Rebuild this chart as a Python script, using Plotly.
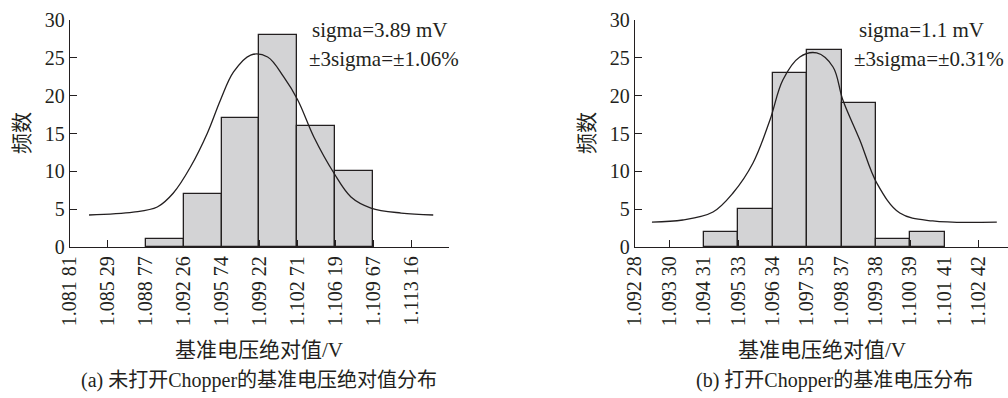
import plotly.graph_objects as go

W, H = 1008, 398
ML, MR, MT, MB = 0, 0, 20, 151
PH = H - MT - MB

# ---------- Panel (a): Chopper off ----------
a_tickvals = [1.08181, 1.08529, 1.08877, 1.09226, 1.09574, 1.09922,
              1.10271, 1.10619, 1.10967, 1.11316]
a_ticktext = ["1.081 81", "1.085 29", "1.088 77", "1.092 26", "1.095 74",
              "1.099 22", "1.102 71", "1.106 19", "1.109 67", "1.113 16"]
a_bin_edges = [1.08877, 1.09226, 1.09574, 1.09922, 1.10271, 1.10619, 1.10967]
a_counts = [1, 7, 17, 28, 16, 10]
a_curve_x = [1.08356, 1.08762, 1.08983, 1.09131, 1.09288, 1.09444, 1.09564,
             1.09684, 1.09841, 1.09997, 1.10145, 1.10274, 1.10422, 1.10606,
             1.10763, 1.10947, 1.11224, 1.11519]
a_curve_y = [4.23, 4.6, 5.29, 7.14, 10.57, 15.07, 19.43, 23.13, 25.37, 25.11,
             22.47, 19.43, 14.54, 9.78, 6.61, 5.15, 4.49, 4.23]
a_axis_end = 1.11664
a_text = ["sigma=3.89 mV", "±3sigma=±1.06%"]

# ---------- Panel (b): Chopper on ----------
b_tickvals = [1.09228, 1.09330, 1.09431, 1.09533, 1.09634, 1.09735,
              1.09837, 1.09938, 1.10039, 1.10141, 1.10242]
b_ticktext = ["1.092 28", "1.093 30", "1.094 31", "1.095 33", "1.096 34",
              "1.097 35", "1.098 37", "1.099 38", "1.100 39", "1.101 41",
              "1.102 42"]
b_bin_edges = [1.09431, 1.09533, 1.09634, 1.09735, 1.09837, 1.09938,
               1.10039, 1.10141]
b_counts = [2, 5, 23, 26, 19, 1, 2]
b_curve_x = [1.09278, 1.09369, 1.09458, 1.09517, 1.09576, 1.09626, 1.09664,
             1.09714, 1.09764, 1.09812, 1.09841, 1.09891, 1.09941, 1.10009,
             1.10106, 1.10295]
b_curve_y = [3.30, 3.57, 4.63, 7.14, 11.10, 16.78, 22.07, 25.11, 25.64,
             23.79, 19.43, 14.14, 8.46, 4.49, 3.44, 3.30]
b_axis_end = 1.10328
b_text = ["sigma=1.1 mV", "±3sigma=±0.31%"]

y_label = "频数"
x_label = "基准电压绝对值/V"
captions = ["(a) 未打开Chopper的基准电压绝对值分布", "(b) 打开Chopper的基准电压分布"]

INK = "#231f20"
BAR = "#d3d3d5"
SERIF = "Liberation Serif, Times New Roman, serif"
MIXED = "Liberation Serif, Noto Sans CJK SC, serif"
CJK = "Noto Sans CJK SC, sans-serif"

fig = go.Figure()


def add_panel(edges, counts, cx, cy, xa, ya):
    centers = [(edges[i] + edges[i + 1]) / 2 for i in range(len(counts))]
    widths = [edges[i + 1] - edges[i] for i in range(len(counts))]
    fig.add_trace(go.Bar(x=centers, y=counts, width=widths,
                         marker=dict(color=BAR, line=dict(color=INK, width=1.3)),
                         xaxis=xa, yaxis=ya, showlegend=False))
    fig.add_trace(go.Scatter(x=cx, y=cy, mode="lines",
                             line=dict(color=INK, width=1.3, shape="spline", smoothing=1.0),
                             xaxis=xa, yaxis=ya, showlegend=False))


add_panel(a_bin_edges, a_counts, a_curve_x, a_curve_y, "x", "y")
add_panel(b_bin_edges, b_counts, b_curve_x, b_curve_y, "x2", "y2")

axis_common = dict(showgrid=False, zeroline=False, showline=True, linecolor=INK,
                   linewidth=1.3, ticks="inside", ticklen=7, tickwidth=1.2,
                   automargin=False,
                   tickcolor=INK, tickfont=dict(family=SERIF, size=20, color=INK))


def px2x(px):
    return px / W


a_dom = [px2x(70), px2x(449)]
b_dom = [px2x(635), 1.0]

fig.update_layout(
    width=W, height=H,
    margin=dict(l=ML, r=MR, t=MT, b=MB, pad=0),
    paper_bgcolor="white", plot_bgcolor="white",
    bargap=0,
    xaxis=dict(domain=a_dom, range=[a_tickvals[0], a_axis_end],
               tickvals=a_tickvals + [a_axis_end], ticktext=a_ticktext + [""],
               tickangle=-90, anchor="y", **axis_common),
    yaxis=dict(domain=[0, 1], range=[0, 30], tickvals=[0, 5, 10, 15, 20, 25, 30],
               anchor="x", **axis_common),
    xaxis2=dict(domain=b_dom, range=[b_tickvals[0], b_axis_end],
                tickvals=b_tickvals, ticktext=b_ticktext,
                tickangle=-90, anchor="y2", **axis_common),
    yaxis2=dict(domain=[0, 1], range=[0, 30], tickvals=[0, 5, 10, 15, 20, 25, 30],
                anchor="x2", **axis_common),
)


def py2y(py):
    return (H - MB - py) / PH


anns = []
for lefts, texts in [((310, 307), a_text), ((857, 852), b_text)]:
    for i, t in enumerate(texts):
        anns.append(dict(text=t, x=px2x(lefts[i]), y=py2y(30 + 29 * i), xref="paper", yref="paper",
                         xanchor="left", yanchor="middle", showarrow=False,
                         font=dict(family=SERIF, size=21, color=INK)))
for cx_px in (20, 585):
    anns.append(dict(text=y_label, x=px2x(cx_px), y=py2y(133), xref="paper", yref="paper",
                     xanchor="center", yanchor="middle", showarrow=False, textangle=-90,
                     font=dict(family=CJK, size=21, color=INK)))
for cx_px, cap_px, cap in [(259, 259, captions[0]), (822, 834, captions[1])]:
    anns.append(dict(text=x_label, x=px2x(cx_px), y=py2y(350), xref="paper", yref="paper",
                     xanchor="center", yanchor="middle", showarrow=False,
                     font=dict(family=MIXED, size=21, color=INK)))
    anns.append(dict(text=cap, x=px2x(cap_px), y=py2y(380), xref="paper", yref="paper",
                     xanchor="center", yanchor="middle", showarrow=False,
                     font=dict(family=MIXED, size=20, color=INK)))
fig.update_layout(annotations=anns)

fig.write_html("out.html", config={"displayModeBar": False},
               post_script="document.body.style.margin='0';document.body.style.padding='0';")
